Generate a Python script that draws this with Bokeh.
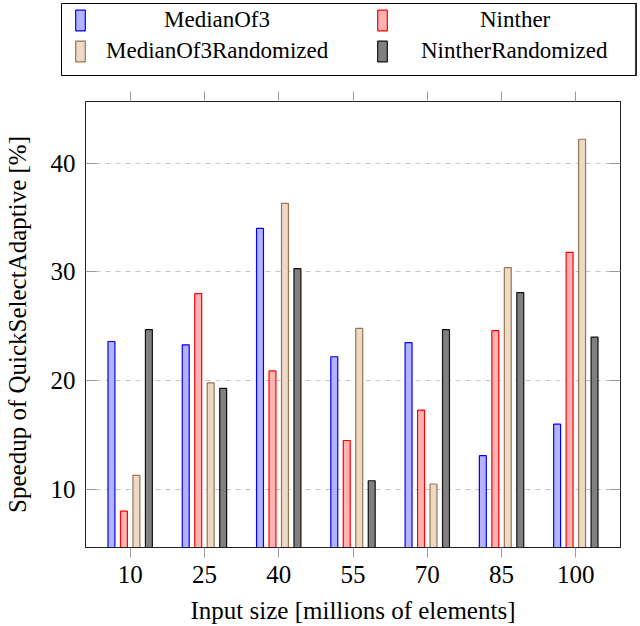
from bokeh.plotting import figure
from bokeh.models import (Range1d, FixedTicker, LinearAxis, Legend, LegendItem,
                          ColumnDataSource)
from bokeh.layouts import column
from bokeh.transform import dodge
from bokeh.embed import file_html
from bokeh.resources import INLINE

# ---- data ----
sizes = [10, 25, 40, 55, 70, 85, 100]
median_of_3 = [23.6, 23.3, 34.0, 22.2, 23.5, 13.1, 16.0]
ninther = [8.0, 28.0, 20.9, 14.5, 17.3, 24.6, 31.8]
median_of_3_randomized = [11.3, 19.8, 36.3, 24.8, 10.5, 30.4, 42.2]
ninther_randomized = [24.7, 19.3, 30.3, 10.8, 24.7, 28.1, 24.0]
series_names = ["MedianOf3", "Ninther", "MedianOf3Randomized", "NintherRandomized"]
y_ticks = [10, 20, 30, 40]
x_label = "Input size [millions of elements]"
y_label = "Speedup of QuickSelectAdaptive [%]"

SERIF = "Liberation Serif"
LEGEND_H = 82

src = ColumnDataSource(dict(
    size=sizes,
    m3=median_of_3,
    nin=ninther,
    m3r=median_of_3_randomized,
    ninr=ninther_randomized,
))

p = figure(frame_width=535, frame_height=446,
           output_backend="svg", toolbar_location=None,
           x_range=Range1d(0.98, 109.02), y_range=Range1d(4.66, 45.67),
           min_border_left=85, min_border_right=12,
           min_border_top=101 - LEGEND_H, min_border_bottom=79,
           x_axis_label=x_label, y_axis_label=y_label)
p.background_fill_color = "white"
p.border_fill_color = "white"
p.outline_line_color = "#202020"
p.outline_line_width = 1

styles = [
    ("m3", "#b3b3ff", "#0000ff"),
    ("nin", "#ffb3b3", "#ff0000"),
    ("m3r", "#ecd9c6", "#9a7450"),
    ("ninr", "#808080", "#111111"),
]
step = 2.52
offsets = [-1.5 * step, -0.5 * step, 0.5 * step, 1.5 * step]
for (col, fill, line), off in zip(styles, offsets):
    p.vbar(x=dodge("size", off), top=col, bottom=0, width=1.4, source=src,
           fill_color=fill, line_color=line, line_width=1.2)

# axes
for ax in p.xaxis:
    ax.ticker = FixedTicker(ticks=sizes)
    ax.major_tick_out = 10
    ax.major_tick_in = 0
    ax.major_tick_line_color = "#999999"
    ax.minor_tick_line_color = None
    ax.axis_line_color = "#202020"
    ax.major_label_text_font = SERIF
    ax.major_label_text_font_size = "25px"
    ax.major_label_text_color = "black"
    ax.major_label_standoff = 8
    ax.axis_label_text_font = SERIF
    ax.axis_label_text_font_size = "25px"
    ax.axis_label_text_font_style = "normal"
    ax.axis_label_text_color = "black"
    ax.axis_label_standoff = 11
for ax in p.yaxis:
    ax.ticker = FixedTicker(ticks=y_ticks)
    ax.major_tick_out = 0
    ax.major_tick_in = 11
    ax.major_tick_line_color = "#999999"
    ax.minor_tick_line_color = None
    ax.axis_line_color = "#202020"
    ax.major_label_text_font = SERIF
    ax.major_label_text_font_size = "25px"
    ax.major_label_text_color = "black"
    ax.major_label_standoff = 10
    ax.axis_label_text_font = SERIF
    ax.axis_label_text_font_size = "25px"
    ax.axis_label_text_font_style = "normal"
    ax.axis_label_text_color = "black"
    ax.axis_label_standoff = 17

top_axis = LinearAxis(ticker=FixedTicker(ticks=sizes),
                      major_label_overrides={v: "" for v in sizes},
                      major_tick_out=10, major_tick_in=0,
                      major_tick_line_color="#999999", minor_tick_line_color=None,
                      axis_line_color="#202020")
p.add_layout(top_axis, "above")
right_axis = LinearAxis(ticker=FixedTicker(ticks=y_ticks),
                        major_label_overrides={v: "" for v in y_ticks},
                        major_tick_out=0, major_tick_in=11,
                        major_tick_line_color="#999999", minor_tick_line_color=None,
                        axis_line_color="#202020")
p.add_layout(right_axis, "right")

p.xgrid.grid_line_color = None
p.ygrid.ticker = FixedTicker(ticks=y_ticks)
p.ygrid.grid_line_color = "#c4c4c4"
p.ygrid.grid_line_dash = "5 5"
p.ygrid.grid_line_width = 1

# ---- legend strip above the chart: its frame is the legend box ----
lf = figure(width=640, height=LEGEND_H, output_backend="svg", toolbar_location=None,
            x_range=Range1d(0, 1), y_range=Range1d(0, 1),
            x_axis_location=None, y_axis_location=None,
            min_border_left=61, min_border_right=4, min_border_top=3, min_border_bottom=7)
can_unalign = "frame_align" in lf.properties()
if can_unalign:
    lf.frame_align = False
lf.grid.visible = False
lf.outline_line_color = "black"
lf.outline_line_width = 1
lf.background_fill_color = "white"
lf.border_fill_color = "white"
key_renderers = []
for col, fill, line in styles:
    # same series, drawn outside this strip's visible range; used only as legend keys
    kr = lf.vbar(x="size", top=col, width=1, source=src,
                 fill_color=fill, line_color=line, line_width=1.2)
    key_renderers.append(kr)

# one single-item legend per cell (2 columns x 2 rows), labels roughly centred in column
cell_pos = [(13, 42), (315, 42), (13, 11), (315, 11)]
cell_standoff = [78, 92, 20, 33]
for name, r, pos, so in zip(series_names, key_renderers, cell_pos, cell_standoff):
    lg = Legend(
        items=[LegendItem(label=name, renderers=[r])],
        location=pos, orientation="vertical",
        border_line_color=None, background_fill_alpha=0,
        padding=0, spacing=0, margin=0,
        glyph_width=12, glyph_height=26, label_height=26,
        label_standoff=so,
        label_text_font=SERIF, label_text_font_size="23px", label_text_color="black",
    )
    lf.add_layout(lg, "center")

open("out.html", "w").write(file_html(column(lf, p, spacing=0), INLINE))
